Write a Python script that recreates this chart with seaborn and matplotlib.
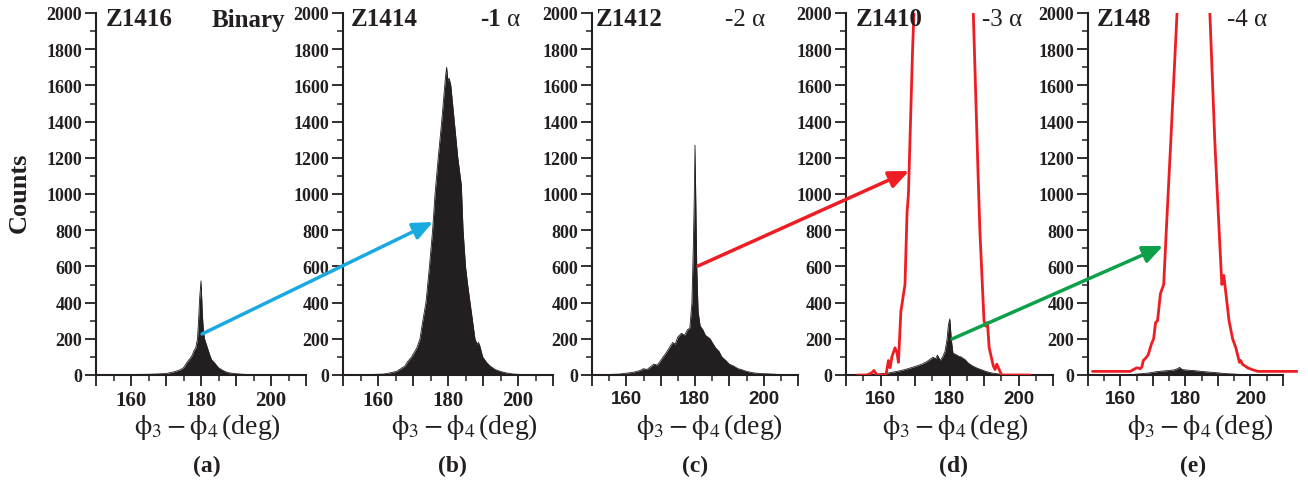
import matplotlib
matplotlib.use('Agg')
import matplotlib.pyplot as plt
import seaborn as sns
from matplotlib.patches import FancyArrowPatch
from matplotlib.ticker import MultipleLocator, FixedLocator, FuncFormatter

sns.set_theme(style='ticks')
plt.rcParams['font.family'] = ['Liberation Serif', 'DejaVu Serif']
plt.rcParams['mathtext.fontset'] = 'stix'

# phi3 - phi4 distributions (deg, counts)
a_x = [150, 160, 165, 168, 170, 171, 172, 173, 174, 175, 176, 177, 177.5, 178, 178.5, 179, 179.3, 179.6, 180,
       180.4, 180.7, 181, 181.5, 182, 182.5, 183, 184, 185, 186, 187, 188, 190, 192, 195, 200, 210]
a_y = [2, 3, 4, 6, 8, 12, 16, 22, 28, 40, 70, 95, 110, 135, 150, 200, 300, 420, 520,
       330, 240, 200, 170, 140, 110, 85, 64, 40, 28, 18, 12, 7, 4, 2, 1, 1]

b_x = [150, 158, 161.5, 163, 165.3, 166.5, 167.7, 168.5, 169.6, 170.5, 171.1, 172, 172.8, 173.7, 174.7, 175.6,
       176.3, 177.2, 178.2, 178.9, 179.3, 179.6, 180, 180.3, 180.8, 181.3, 181.8, 182.8, 183.8, 184.3, 185,
       185.6, 186.3, 187, 187.7, 188.3, 188.7, 189.1, 189.9, 191, 192, 193.5, 194.9, 196.5, 198.7, 202, 210]
b_y = [0, 3, 5, 10, 20, 35, 50, 75, 100, 130, 150, 200, 300, 400, 600, 800,
       1000, 1200, 1400, 1560, 1650, 1700, 1620, 1640, 1600, 1500, 1400, 1200, 1050, 800, 600,
       500, 400, 300, 200, 170, 180, 160, 100, 70, 50, 30, 20, 12, 5, 2, 0]

c_x = [150, 155, 158, 160, 162, 163, 164, 165, 166, 167, 168, 169, 170, 170.7, 171.5, 172.5, 173.5, 174.2,
       175, 176, 177, 177.8, 178.5, 179.1, 179.5, 179.8, 180, 180.2, 180.5, 180.9, 181.5, 182.3, 183, 184.4,
       185, 186, 187, 187.8, 189, 190, 191.2, 192.5, 193.5, 195, 197, 199, 202.8, 205, 210]
c_y = [0, 3, 5, 10, 15, 20, 25, 35, 30, 45, 60, 55, 80, 100, 120, 150, 180, 170,
       210, 230, 220, 250, 260, 400, 700, 1000, 1270, 1000, 600, 350, 270, 250, 220, 200,
       180, 150, 130, 100, 80, 60, 50, 35, 30, 20, 12, 8, 5, 2, 0]

d_x = [150, 155, 159, 162, 164.8, 166, 168, 170.5, 172, 173.5, 175.2, 176, 176.5, 177.3, 178, 178.7, 179.3,
       179.7, 180.1, 180.5, 181, 181.7, 182.5, 183.3, 184.5, 185.5, 186.7, 188, 190.5, 192, 194.3, 196, 200, 210]
d_y = [0, 2, 5, 10, 20, 25, 35, 50, 60, 75, 98, 90, 110, 80, 100, 130, 200,
       280, 310, 200, 120, 115, 105, 100, 85, 65, 50, 38, 20, 12, 5, 3, 0, 0]
d_red_x = [153.4, 156, 157.3, 158.1, 159, 161.6, 162.3, 162.8, 163.3, 164.2, 164.8, 165.2, 165.9, 167.1, 167.7,
           168.1, 169.3, 169.7, 171, 185, 186.9, 188.3, 188.8, 190.0, 190.5, 191.0, 191.5, 192.7, 193.2, 193.7,
           195.1, 203.3]
d_red_y = [0, 0, 10, 25, 0, 0, 80, 40, 100, 150, 120, 70, 350, 500, 900,
           1000, 1800, 2000, 2600, 2600, 2000, 1100, 800, 300, 270, 290, 150, 50, 30, 60,
           0, 0]

e_x = [150, 160, 163, 165, 167, 169, 171, 173, 175, 176.5, 177.5, 178.2, 179, 180, 182, 184, 186, 188, 190,
       192, 195, 198, 202, 210]
e_y = [0, 0, 2, 5, 8, 12, 18, 22, 25, 28, 35, 42, 30, 28, 25, 22, 18, 15, 12,
       8, 5, 2, 0, 0]
e_red_x = [151.4, 156, 160, 163.0, 164, 165, 166.1, 166.6, 167.0, 167.6, 168.5, 169.5, 170.2, 170.8, 171.4,
           172.3, 173.3, 174.1, 175.5, 177.4, 179, 186, 187.5, 189.0, 189.8, 190.9, 191.2, 191.8, 193.4, 194.5,
           195.5, 196.6, 197.0, 197.5, 199.1, 200.5, 202.2, 206, 214.3]
e_red_y = [20, 20, 20, 20, 30, 40, 35, 45, 80, 90, 110, 170, 200, 290, 300,
           450, 500, 800, 1300, 2000, 2800, 2800, 2000, 1300, 1000, 600, 500, 550, 300, 200,
           150, 70, 80, 60, 40, 30, 20, 20, 20]

names = ['Z1416', 'Z1414', 'Z1412', 'Z1410', 'Z148']
tags = ['Binary', '-1 α', '-2 α', '-3 α', '-4 α']
letters = ['(a)', '(b)', '(c)', '(d)', '(e)']
black_x = [a_x, b_x, c_x, d_x, e_x]
black_y = [a_y, b_y, c_y, d_y, e_y]
red_x = [None, None, None, d_red_x, e_red_x]
red_y = [None, None, None, d_red_y, e_red_y]

BLACK = '#231F20'
RED = '#EE1D23'
W, H = 1308, 485

fig = plt.figure(figsize=(W / 100, H / 100), dpi=100)


def fx(px):
    return px / W


def fy(py):
    return 1 - py / H


# axes layout in pixels: left edge, width, right x-limit
lefts = [96, 343, 592, 846, 1088]
widths = [210, 210, 206, 207, 209.6]
xmax = [210, 210, 210, 210, 214.5]
name_x = [106, 351, 596, 856, 1097]
tag_x = [212, 480, 725, 982, 1227]
label_x = [207, 464, 709, 955, 1200]
letter_x = [207, 452, 695, 953, 1193]

for i in range(5):
    ax = fig.add_axes([fx(lefts[i]), fy(376), fx(widths[i]), 362 / H])
    ax.set_facecolor('none')
    ax.fill_between(black_x[i], black_y[i], 0, color=BLACK, lw=0)
    sns.lineplot(x=black_x[i], y=black_y[i], ax=ax, color=BLACK, lw=0.6, estimator=None)
    if red_x[i] is not None:
        sns.lineplot(x=red_x[i], y=red_y[i], ax=ax, color=RED, lw=2, estimator=None, zorder=3)
    ax.set_xlim(150, xmax[i])
    ax.set_ylim(0, 2000)
    sns.despine(ax=ax)
    ax.spines['bottom'].set_bounds(150, 210)
    for s in ['left', 'bottom']:
        ax.spines[s].set_linewidth(1.5)
        ax.spines[s].set_color(BLACK)
    ax.xaxis.set_major_locator(FixedLocator(list(range(150, 211, 10))))
    ax.xaxis.set_minor_locator(FixedLocator(list(range(155, 210, 10))))
    ax.xaxis.set_major_formatter(FuncFormatter(lambda v, p: str(int(v)) if int(v) in (160, 180, 200) else ''))
    ax.yaxis.set_major_locator(MultipleLocator(200))
    ax.yaxis.set_minor_locator(MultipleLocator(100))
    ax.tick_params(which='major', direction='out', length=8, width=1.3, color=BLACK)
    ax.tick_params(which='minor', direction='out', length=4, width=1.1, color=BLACK)
    ax.tick_params(axis='y', pad=2)
    ax.tick_params(axis='x', pad=3)
    ax.set_xlabel('')
    ax.set_ylabel('')
    for t in ax.get_yticklabels():
        t.set_fontweight('bold')
        t.set_fontsize(13)
        t.set_color(BLACK)
    xfam = 'Liberation Serif' if i < 2 else 'Liberation Sans'
    xsize = 15 if i < 2 else 13.5
    for t in ax.get_xticklabels():
        t.set_fontweight('bold')
        t.set_fontsize(xsize)
        t.set_family(xfam)
        t.set_color(BLACK)

    fig.text(fx(name_x[i]), fy(20), names[i], fontsize=18, fontweight='bold', va='center', color=BLACK)
    if i == 0:
        fig.text(fx(tag_x[i]), fy(20), tags[i], fontsize=18, fontweight='bold', va='center', color=BLACK)
    elif i == 1:
        fig.text(fx(tag_x[i]), fy(20), '-1', fontsize=18, fontweight='bold', va='center', color=BLACK)
        fig.text(fx(507), fy(20), 'α', fontsize=18, va='center', color=BLACK)
    else:
        fig.text(fx(tag_x[i]), fy(20), tags[i], fontsize=18, va='center', color=BLACK)
    fig.text(fx(label_x[i]), fy(434), r'$\mathrm{\phi}_3 - \mathrm{\phi}_4\,$(deg)', fontsize=20,
             ha='center', va='baseline', color=BLACK)
    fig.text(fx(letter_x[i]), fy(466), letters[i], fontsize=17, fontweight='bold',
             ha='center', va='center', color=BLACK)

fig.text(fx(19), fy(193), 'Counts', fontsize=19, fontweight='bold', rotation=90,
         ha='center', va='center', color=BLACK)

# connecting arrows (figure pixels)
arrows = [((202, 335), (433, 223), '#1AA9E1'),
          ((698, 267), (909, 172), RED),
          ((952, 340), (1163, 247), '#0DA04A')]
for (x0, y0), (x1, y1), col in arrows:
    fig.add_artist(FancyArrowPatch((fx(x0), fy(y0)), (fx(x1), fy(y1)), transform=fig.transFigure,
                                   arrowstyle='-|>,head_length=0.8,head_width=0.35', mutation_scale=15,
                                   lw=2.5, color=col, shrinkA=0, shrinkB=0, zorder=5))

fig.savefig('out.png', dpi=100)
